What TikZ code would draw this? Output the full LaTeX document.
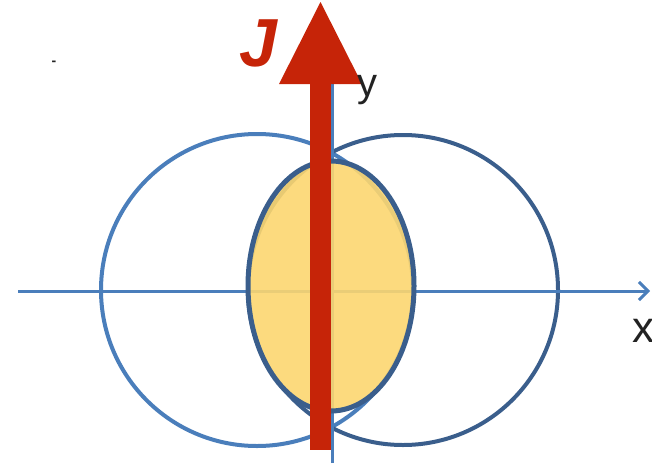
\documentclass[tikz,border=0pt]{standalone}
\usepackage{fontspec}
\setmainfont{Liberation Sans}
\usetikzlibrary{arrows.meta}
\definecolor{axisblue}{RGB}{74,126,187}
\definecolor{darkblue}{RGB}{58,94,140}
\definecolor{lensfill}{RGB}{252,214,112}
\definecolor{jred}{RGB}{198,36,8}
\definecolor{labelgray}{RGB}{34,34,34}
\tikzset{
  circ/.style={line width=4pt},
  axisline/.style={draw=axisblue, line width=3pt},
  lbl/.style={inner sep=0pt, text=labelgray},
}
\begin{document}
\begin{tikzpicture}[x=1pt,y=-1pt]
\useasboundingbox (0,0) rectangle (652,463);
% circles
\draw[circ, draw=axisblue] (257,290) circle[radius=156];
\draw[circ, draw=darkblue] (403,290) circle[radius=155];
% axes
\coordinate (xs) at (18,291);
\coordinate (xe) at (650,291);
\coordinate (ys) at (332,463);
\coordinate (ye) at (332,72);
\draw[axisline, -{Straight Barb[length=9pt,width=18pt]}] (xs) -- (xe);
\draw[axisline, -{Straight Barb[length=9pt,width=18pt]}] (ys) -- (ye);
% lens ellipse
\fill[lensfill, fill opacity=0.9] (331,286) ellipse[x radius=83, y radius=125];
\draw[darkblue, line width=5pt] (331,286) ellipse[x radius=83, y radius=125];
% current arrow
\coordinate (jbot) at (320.5,450);
\coordinate (jtop) at (320.5,2);
\fill[jred] (310,450) rectangle (331,80);
\fill[jred] (320.5,2) -- (362,84) -- (279,84) -- cycle;
% labels
\node[inner sep=0pt, text=jred, font=\fontsize{68}{68}\selectfont\bfseries\itshape, anchor=base] (J) at (258,66) {J};
\node[lbl, font=\fontsize{40}{40}\selectfont, anchor=base] (ylab) at (367,96) {y};
\node[lbl, font=\fontsize{44}{44}\selectfont, anchor=base west] (xlab) at (632,342) {x};
\node[lbl, font=\fontsize{14}{14}\selectfont\bfseries] (dash) at (54,63) {-};
\end{tikzpicture}
\end{document}
